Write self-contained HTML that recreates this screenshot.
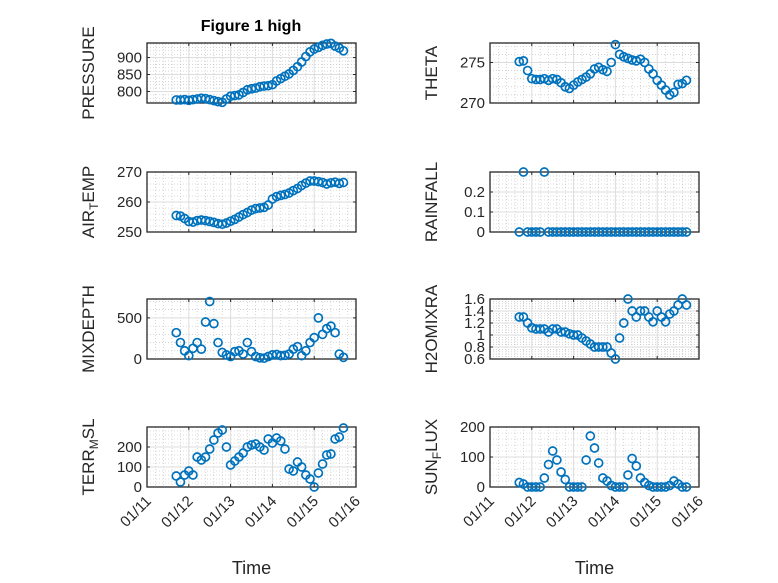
<!DOCTYPE html>
<html><head><meta charset="utf-8"><style>
html,body{margin:0;padding:0;background:#fff}
svg{display:block;font-family:"Liberation Sans",sans-serif}
</style></head><body>
<svg id="fig" width="778" height="583" viewBox="0 0 778 583">
<rect width="778" height="583" fill="#fff"/>
<text x="251" y="31" text-anchor="middle" font-size="16" font-weight="bold" fill="#000">Figure 1 high</text>
</svg>
<script>
const days = ["01/11","01/12","01/13","01/14","01/15","01/16"];
const time = [0.7,0.8,0.9,1.0,1.1,1.2,1.3,1.4,1.5,1.6,1.7,1.8,1.9,2.0,2.1,2.2,2.3,2.4,2.5,2.6,2.7,2.8,2.9,3.0,3.1,3.2,3.3,3.4,3.5,3.6,3.7,3.8,3.9,4.0,4.1,4.2,4.3,4.4,4.5,4.6,4.7];
const pressure = [775,775,776,774,776,778,780,779,776,773,770,768,778,786,788,790,797,805,808,810,814,816,817,820,831,838,845,852,862,873,887,903,917,925,930,936,940,942,934,928,920];
const airTemp = [255.5,255.3,254.5,253.5,253.3,253.8,254,253.8,253.5,253.2,252.8,252.6,253,253.6,254.2,255,255.8,256.5,257.3,257.8,258,258.2,259,261,261.8,262.2,262.5,263,263.8,264.5,265.5,266.3,267,267,266.8,266.5,266,266.4,266.6,266.2,266.5];
const theta = [275.1,275.2,274,273,272.9,272.9,273,272.8,273,272.9,272.5,272,271.8,272.2,272.6,272.9,273.2,273.6,274.2,274.4,274.1,273.9,275,277.2,276,275.7,275.5,275.3,275.2,275.4,275,274.2,273.6,272.8,272.2,271.6,271,271.3,272.3,272.4,272.8];
const rainfall = [0,0.3,0,0,0,0,0.3,0,0,0,0,0,0,0,0,0,0,0,0,0,0,0,0,0,0,0,0,0,0,0,0,0,0,0,0,0,0,0,0,0,0];
const mixDepth = [320,200,100,40,130,200,120,450,700,430,200,80,50,30,90,100,60,200,90,30,15,10,30,50,55,40,45,60,120,150,40,100,200,260,500,300,370,400,320,60,20];
const h2oMix = [1.3,1.3,1.2,1.12,1.1,1.1,1.1,1.05,1.1,1.1,1.05,1.05,1.02,1.0,1.0,0.95,0.9,0.85,0.8,0.8,0.8,0.8,0.7,0.6,0.95,1.2,1.6,1.4,1.3,1.4,1.4,1.3,1.22,1.4,1.3,1.22,1.35,1.4,1.5,1.6,1.5];
const terrMsl = [55,25,60,80,60,150,135,150,190,235,270,285,200,110,130,150,170,200,210,215,200,185,240,220,245,230,190,90,80,125,100,60,40,0,70,115,160,165,240,250,295];
const sunFlux = [15,10,0,0,0,0,30,75,120,90,50,25,0,0,0,0,90,170,130,80,30,20,5,0,0,0,40,95,70,30,15,5,0,0,0,0,5,20,10,0,0];

const pressureTicks = [800,850,900];
const airTicks = [250,260,270];
const thetaTicks = [270,275];
const rainTicks = [0,0.1,0.2];
const mixTicks = [0,500];
const h2oTicks = [0.6,0.8,1,1.2,1.4,1.6];
const terrTicks = [0,100,200];
const sunTicks = [0,100,200];

const NS="http://www.w3.org/2000/svg";
const svg=document.getElementById('fig');
function mk(tag,attrs,parent){const e=document.createElementNS(NS,tag);for(const k in attrs)e.setAttribute(k,attrs[k]);(parent||svg).appendChild(e);return e;}

function panel(o){
  const g=mk('g',{});
  
  
  const x0=o.x,x1=o.x+209,y0=o.y,y1=o.y+60;
  const xs=t=>x0+(t/5)*(x1-x0);
  const ys=v=>y1-(v-o.ymin)/(o.ymax-o.ymin)*(y1-y0);
  for(let i=0;i<=25;i++){const t=i*0.2;if(i%5===0)continue;
    const l=mk('line',{x1:xs(t),x2:xs(t),y1:y0,y2:y1,stroke:'#bbb','stroke-width':0.6,'stroke-dasharray':'1,2'},g);
    }
  const step=o.ticks.length>1?o.ticks[1]-o.ticks[0]:1;
  for(let v=o.ticks[0]-step;v<=o.ymax+1e-9;v+=step/5){
    if(v<o.ymin-1e-9)continue;
    const l=mk('line',{x1:x0,x2:x1,y1:ys(v),y2:ys(v),stroke:'#bbb','stroke-width':0.6,'stroke-dasharray':'1,2'},g);
    }
  days.forEach((d,i)=>{const l=mk('line',{x1:xs(i),x2:xs(i),y1:y0,y2:y1,stroke:'#ddd','stroke-width':1},g);
    
    mk('line',{x1:xs(i),x2:xs(i),y1:y1,y2:y1-3,stroke:'#262626','stroke-width':1},g);
    mk('line',{x1:xs(i),x2:xs(i),y1:y0,y2:y0+3,stroke:'#262626','stroke-width':1},g);});
  o.ticks.forEach(v=>{const l=mk('line',{x1:x0,x2:x1,y1:ys(v),y2:ys(v),stroke:'#ddd','stroke-width':1},g);
    
    mk('line',{x1:x0,x2:x0+3,y1:ys(v),y2:ys(v),stroke:'#262626'},g);
    mk('line',{x1:x1,x2:x1-3,y1:ys(v),y2:ys(v),stroke:'#262626'},g);
    const t=mk('text',{x:x0-5,y:ys(v)+5,'text-anchor':'end','font-size':15,fill:'#262626'},g);
    t.textContent=String(v);
    });
  const b=mk('rect',{x:x0,y:y0,width:x1-x0,height:y1-y0,fill:'none',stroke:'#262626','stroke-width':1.3},g);
  
  o.vals.forEach((v,i)=>{const c=mk('circle',{cx:xs(time[i]),cy:ys(v),r:4,fill:'none',stroke:'#0072BD','stroke-width':1.7},g);
    
    });
  const lx=o.labelX, ly=(y0+y1)/2;
  const t=mk('text',{x:lx,y:ly,'text-anchor':'middle','font-size':17,fill:'#262626',transform:`rotate(-90 ${lx} ${ly})`},g);
  
  
  if(o.sub){const a=mk('tspan',{},t);a.textContent=o.label[0];
    const s=mk('tspan',{'font-size':12,dy:4},t);s.textContent=o.label[1];
    const c=mk('tspan',{dy:-4},t);c.textContent=o.label[2];}
  else t.textContent=o.label;
  if(o.xlabels){
    days.forEach((d,i)=>{const tx=xs(i)+5,ty=y1+15;
      const tt=mk('text',{x:tx,y:ty,'text-anchor':'end','font-size':15,fill:'#262626',transform:`rotate(-45 ${tx} ${ty})`},g);
      tt.textContent=d;
      });
    const xl=mk('text',{x:(x0+x1)/2,y:574,'text-anchor':'middle','font-size':18,fill:'#262626'},g);
    xl.textContent='Time';
    
  }
}
panel({name:'pressure',x:147,y:43,ymin:766,ymax:943,ticks:pressureTicks,vals:pressure,label:'PRESSURE',labelX:94});
panel({name:'theta',x:490,y:43,ymin:270,ymax:277.4,ticks:thetaTicks,vals:theta,label:'THETA',labelX:437});
panel({name:'air-temp',x:147,y:172,ymin:250,ymax:270,ticks:airTicks,vals:airTemp,label:['AIR','T','EMP'],sub:true,labelX:94});
panel({name:'rainfall',x:490,y:172,ymin:0,ymax:0.3,ticks:rainTicks,vals:rainfall,label:'RAINFALL',labelX:437});
panel({name:'mixdepth',x:147,y:299,ymin:0,ymax:730,ticks:mixTicks,vals:mixDepth,label:'MIXDEPTH',labelX:94});
panel({name:'h2omixra',x:490,y:299,ymin:0.6,ymax:1.6,ticks:h2oTicks,vals:h2oMix,label:'H2OMIXRA',labelX:437});
panel({name:'terr-msl',x:147,y:427,ymin:0,ymax:300,ticks:terrTicks,vals:terrMsl,label:['TERR','M','SL'],sub:true,labelX:94,xlabels:true});
panel({name:'sun-flux',x:490,y:427,ymin:0,ymax:200,ticks:sunTicks,vals:sunFlux,label:['SUN','F','LUX'],sub:true,labelX:437,xlabels:true});
</script>
</body></html>
